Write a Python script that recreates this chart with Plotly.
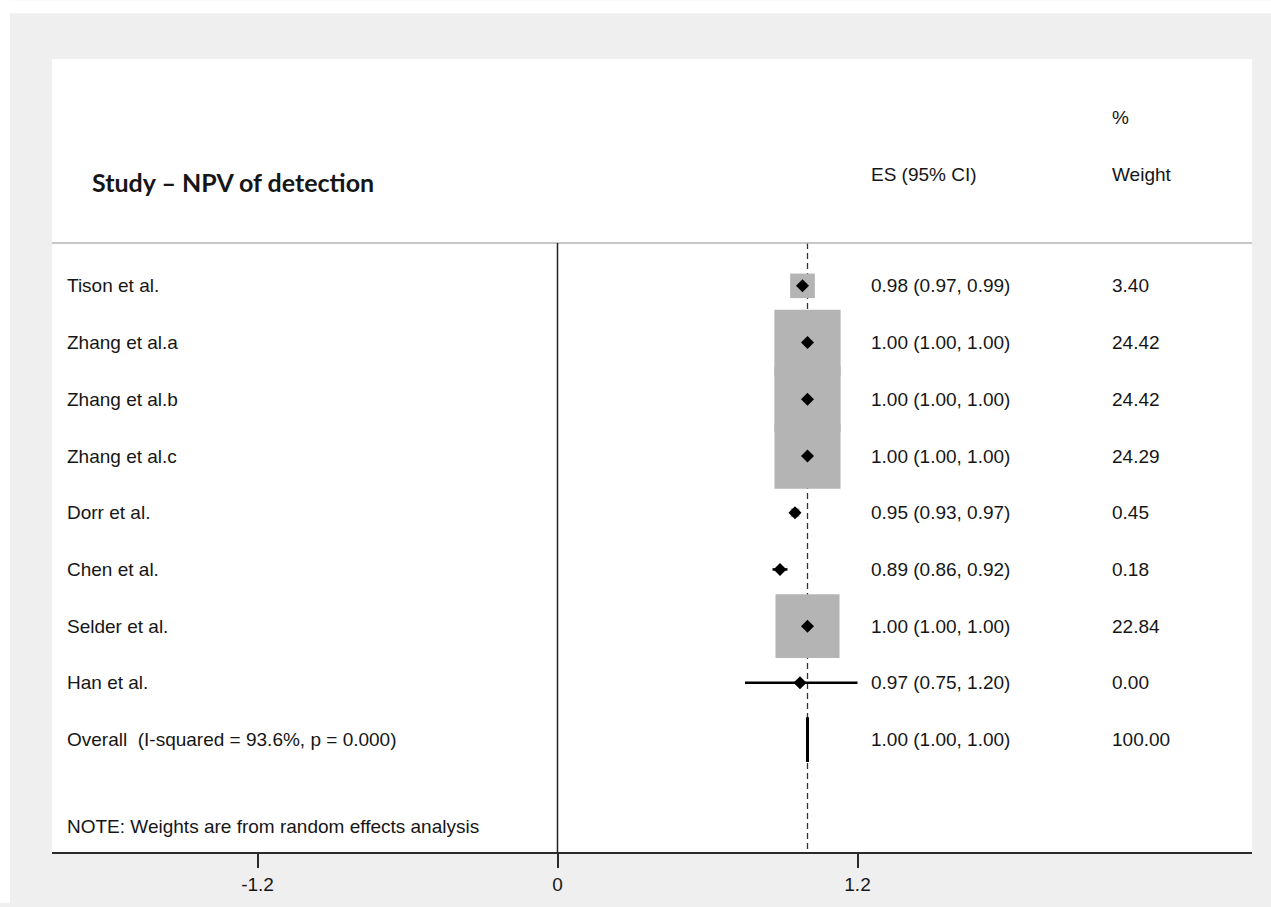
import math
import plotly.graph_objects as go

# ---- data -------------------------------------------------------------
studies = ["Tison et al.", "Zhang et al.a", "Zhang et al.b", "Zhang et al.c",
           "Dorr et al.", "Chen et al.", "Selder et al.", "Han et al."]
es = [0.98, 1.00, 1.00, 1.00, 0.95, 0.89, 1.00, 0.97]
ci_low = [0.97, 1.00, 1.00, 1.00, 0.93, 0.86, 1.00, 0.75]
ci_high = [0.99, 1.00, 1.00, 1.00, 0.97, 0.92, 1.00, 1.20]
weights = [3.40, 24.42, 24.42, 24.29, 0.45, 0.18, 22.84, 0.00]

overall_label = "Overall\u00a0 (I-squared = 93.6%, p = 0.000)"
overall_es, overall_low, overall_high, overall_weight = 1.00, 1.00, 1.00, 100.00

tick_vals = [-1.2, 0, 1.2]
tick_text = ["-1.2", "0", "1.2"]

title_text = "Study \u2013 NPV of detection"
note_text = "NOTE: Weights are from random effects analysis"

# ---- geometry / style -------------------------------------------------
W, H = 1271, 907
M_L, M_R, M_T, M_B = 52, 19, 59, 51
PLOT_W = W - M_L - M_R
PLOT_H = H - M_T - M_B
PX_PER_X = 250.0          # pixels per unit of effect size
ZERO_PX = 505.5           # zero position inside the plot area
PX_PER_ROW = 57.0         # vertical spacing of the study rows
FIRST_ROW_PX = 228.0      # first row centre inside the plot area

x_min = -ZERO_PX / PX_PER_X
x_max = (PLOT_W - ZERO_PX) / PX_PER_X
y_top = -FIRST_ROW_PX / PX_PER_ROW
y_bottom = y_top + PLOT_H / PX_PER_ROW


def xpx(px):
    """Page x-pixel -> data x."""
    return (px - M_L - ZERO_PX) / PX_PER_X


def ypx(py):
    """Page y-pixel -> row coordinate."""
    return (py - M_T - FIRST_ROW_PX) / PX_PER_ROW


BOX_SCALE = 13.4          # box side (px) per sqrt(weight)
FONT = "Liberation Sans, Arial, Helvetica, sans-serif"
TXT = "#161616"
FS = 19

label_x = xpx(65)
es_x = xpx(869)
wt_x = xpx(1110)
sep_y = ypx(244)

n = len(studies)
rows = list(range(n))
overall_row = n

fig = go.Figure()
shapes = []

# decorative page edges
shapes.append(dict(type="rect", xref="paper", yref="paper",
                   x0=-M_L / PLOT_W, x1=(W - M_L) / PLOT_W,
                   y0=1 + (M_T - 13) / PLOT_H, y1=1 + M_T / PLOT_H,
                   fillcolor="white", line=dict(width=0), layer="below"))
shapes.append(dict(type="rect", xref="paper", yref="paper",
                   x0=-M_L / PLOT_W, x1=-(M_L - 10) / PLOT_W,
                   y0=-M_B / PLOT_H, y1=1 + M_T / PLOT_H,
                   fillcolor="white", line=dict(width=0), layer="below"))

# header separator
shapes.append(dict(type="line", xref="paper", yref="y", x0=0, x1=1,
                   y0=sep_y, y1=sep_y, line=dict(color="#b5b5b5", width=1.5)))
# null line
shapes.append(dict(type="line", xref="x", yref="y", x0=0, x1=0,
                   y0=sep_y, y1=y_bottom, line=dict(color="#222222", width=1.5)))
# overall effect reference line
shapes.append(dict(type="line", xref="x", yref="y", x0=overall_es, x1=overall_es,
                   y0=sep_y, y1=y_bottom, layer="below",
                   line=dict(color="#333333", width=1.3, dash="6px,4px")))

# weight boxes
for r, e, w in zip(rows, es, weights):
    side = BOX_SCALE * math.sqrt(w)
    if side <= 0:
        continue
    hx = side / 2 / PX_PER_X
    hy = side / 2 / PX_PER_ROW
    shapes.append(dict(type="rect", xref="x", yref="y",
                       x0=e - hx, x1=e + hx, y0=r - hy, y1=r + hy,
                       fillcolor="#b4b4b4", line=dict(width=0), layer="below"))

# confidence intervals
ci_x, ci_y = [], []
for r, lo, hi in zip(rows, ci_low, ci_high):
    ci_x += [lo, hi, None]
    ci_y += [r, r, None]
fig.add_trace(go.Scatter(x=ci_x, y=ci_y, mode="lines",
                         line=dict(color="black", width=2.5),
                         hoverinfo="skip", showlegend=False))

# point estimates
fig.add_trace(go.Scatter(x=es, y=rows, mode="markers",
                         marker=dict(symbol="diamond", size=10, color="black"),
                         showlegend=False))

# pooled estimate diamond
dh = 22.5 / PX_PER_ROW
fig.add_trace(go.Scatter(
    x=[overall_low, overall_es, overall_high, overall_es, overall_low],
    y=[overall_row, overall_row - dh, overall_row, overall_row + dh, overall_row],
    mode="lines", fill="toself", fillcolor="black",
    line=dict(color="black", width=3), showlegend=False))

annotations = []


def text(x, y, s, size=FS, family=FONT, xref="x"):
    annotations.append(dict(x=x, y=y, xref=xref, yref="y", text=s,
                            showarrow=False, xanchor="left", yanchor="middle",
                            font=dict(family=family, size=size, color=TXT)))


# headers
text(xpx(90), ypx(183), "<b>" + title_text + "</b>", size=25,
     family="Lato, Open Sans, sans-serif")
text(es_x, ypx(175), "ES (95% CI)")
text(wt_x, ypx(118), "%")
text(wt_x, ypx(175), "Weight")

# study rows
for r, s, e, lo, hi, w in zip(rows, studies, es, ci_low, ci_high, weights):
    text(label_x, r, s)
    text(es_x, r, f"{e:.2f} ({lo:.2f}, {hi:.2f})")
    text(wt_x, r, f"{w:.2f}")

# overall row
text(label_x, overall_row, overall_label)
text(es_x, overall_row, f"{overall_es:.2f} ({overall_low:.2f}, {overall_high:.2f})")
text(wt_x, overall_row, f"{overall_weight:.2f}")

text(label_x, ypx(830), note_text)

fig.update_layout(
    width=W, height=H, autosize=False,
    margin=dict(l=M_L, r=M_R, t=M_T, b=M_B, pad=0),
    paper_bgcolor="#efefef", plot_bgcolor="white",
    shapes=shapes, annotations=annotations, showlegend=False,
    xaxis=dict(range=[x_min, x_max], showgrid=False, zeroline=False,
               showline=True, linecolor="#2a2a2a", linewidth=2,
               ticks="outside", ticklen=14, tickwidth=1.5, tickcolor="#2a2a2a",
               tickvals=tick_vals, ticktext=tick_text,
               tickfont=dict(family=FONT, size=FS, color=TXT), fixedrange=True),
    yaxis=dict(range=[y_bottom, y_top], visible=False, fixedrange=True),
)

fig.write_html("out.html")
